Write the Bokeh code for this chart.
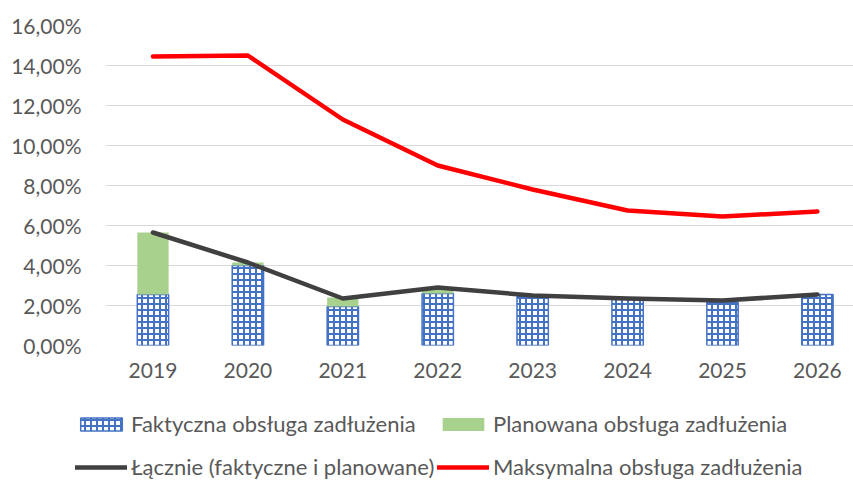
from bokeh.plotting import figure
from bokeh.layouts import column
from bokeh.models import Range1d, FixedTicker, Legend, LegendItem, ColumnDataSource
from bokeh.embed import file_html
from bokeh.resources import INLINE

years = ["2019", "2020", "2021", "2022", "2023", "2024", "2025", "2026"]
faktyczna = [2.55, 4.00, 1.95, 2.60, 2.45, 2.30, 2.15, 2.55]
planowana = [3.10, 0.15, 0.45, 0.25, 0.00, 0.00, 0.00, 0.00]
lacznie = [5.65, 4.15, 2.35, 2.90, 2.50, 2.35, 2.25, 2.55]
maksymalna = [14.45, 14.50, 11.30, 9.00, 7.80, 6.75, 6.45, 6.70]
y_ticks = [0, 2, 4, 6, 8, 10, 12, 14, 16]
y_labels = ["0,00%", "2,00%", "4,00%", "6,00%", "8,00%", "10,00%", "12,00%", "14,00%", "16,00%"]
series_names = ["Faktyczna obsługa zadłużenia", "Planowana obsługa zadłużenia",
                "Łącznie (faktyczne i planowane)", "Maksymalna obsługa zadłużenia"]

FONT = "Lato"
GREY = "#595959"
BLUE = "#4472C4"
GREEN = "#A9D18E"
DARK = "#404040"
RED = "#FF0000"

bar_style = dict(fill_color="white", line_color=BLUE, line_width=1.5,
                 hatch_pattern="cross", hatch_color=BLUE, hatch_scale=6, hatch_weight=2)
plan_style = dict(fill_color=GREEN, line_color=None)
lac_style = dict(line_color=DARK, line_width=4.5, line_cap="round", line_join="round")
mak_style = dict(line_color=RED, line_width=4.5, line_cap="round", line_join="round")

xs = list(range(len(years)))
src = ColumnDataSource(dict(
    x=xs,
    fak=faktyczna,
    plan_bottom=faktyczna,
    plan_top=[a + b for a, b in zip(faktyczna, planowana)],
    lac=lacznie,
    mak=maksymalna,
))

# ---------- main chart ----------
p = figure(width=853, height=395, output_backend="svg", toolbar_location=None,
           x_range=Range1d(-0.5, 7.38), y_range=Range1d(0, 16),
           min_border_left=105, min_border_right=0, min_border_top=25, min_border_bottom=50)
p.outline_line_color = None
p.background_fill_color = "white"
p.border_fill_color = "white"
p.frame_align = False

p.vbar(x="x", top="fak", bottom=0, width=0.33, source=src, **bar_style)
p.vbar(x="x", top="plan_top", bottom="plan_bottom", width=0.33, source=src, **plan_style)
p.line(x="x", y="lac", source=src, **lac_style)
p.line(x="x", y="mak", source=src, **mak_style)

p.xaxis.ticker = FixedTicker(ticks=xs)
p.xaxis.major_label_overrides = {i: y for i, y in enumerate(years)}
p.yaxis.ticker = FixedTicker(ticks=y_ticks)
p.yaxis.major_label_overrides = {t: l for t, l in zip(y_ticks, y_labels)}
for ax in (p.xaxis, p.yaxis):
    ax.axis_line_color = None
    ax.major_tick_line_color = None
    ax.minor_tick_line_color = None
    ax.major_tick_out = 0
    ax.major_tick_in = 0
    ax.major_label_text_font = FONT
    ax.major_label_text_font_size = "21px"
    ax.major_label_text_color = GREY
p.yaxis.major_label_standoff = 24
p.xaxis.major_label_standoff = 17
p.xgrid.grid_line_color = None
p.ygrid.ticker = FixedTicker(ticks=y_ticks)
p.ygrid.grid_line_color = "#D9D9D9"
p.ygrid.grid_line_width = 1.2

# ---------- legend strip ----------
lg = figure(width=853, height=86, output_backend="svg", toolbar_location=None,
            x_axis_type=None, y_axis_type=None,
            x_range=Range1d(0, 1), y_range=Range1d(0, 1),
            min_border_left=0, min_border_right=0, min_border_top=0, min_border_bottom=0)
lg.outline_line_color = None
lg.grid.visible = False
lg.frame_align = False
nan = float("nan")
dummy = ColumnDataSource(dict(x=[nan], y=[nan], t=[nan], b=[nan]))
k_fak = lg.vbar(x="x", top="t", bottom="b", width=0.1, source=dummy, **bar_style)
k_plan = lg.vbar(x="x", top="t", bottom="b", width=0.1, source=dummy, **plan_style)
k_lac = lg.line(x="x", y="y", source=dummy, **lac_style)
k_mak = lg.line(x="x", y="y", source=dummy, **mak_style)

def add_leg(label, renderer, loc):
    leg = Legend(items=[LegendItem(label=label, renderers=[renderer], index=0)],
                 location=loc, orientation="horizontal",
                 glyph_width=52, glyph_height=16, label_standoff=4,
                 label_text_font=FONT, label_text_font_size="22px",
                 label_text_color=GREY, padding=0, margin=0, spacing=0,
                 border_line_color=None, background_fill_alpha=0)
    lg.add_layout(leg, "center")

add_leg(series_names[0], k_fak, (75, 44))
add_leg(series_names[1], k_plan, (437, 44))
add_leg(series_names[2], k_lac, (75, 1))
add_leg(series_names[3], k_mak, (437, 1))

layout = column(p, lg, spacing=0)
open("out.html", "w").write(file_html(layout, INLINE))
